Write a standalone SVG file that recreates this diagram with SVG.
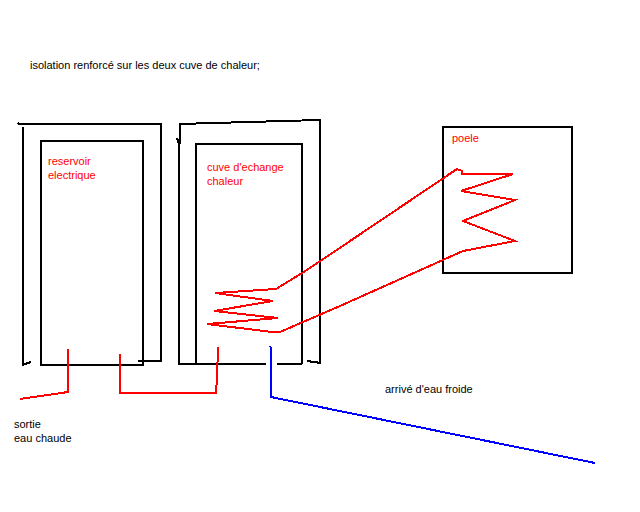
<svg xmlns="http://www.w3.org/2000/svg" width="640" height="512" viewBox="0 0 640 512">
  <style>
    text { font-family: "Liberation Sans", Arial, sans-serif; font-size: 11px; }
    .black { fill: #000; }
    .red { fill: #f00; }
    .wall { fill: none; stroke: #000; stroke-width: 2; shape-rendering: crispEdges; }
    .hot { fill: none; stroke: #f00; stroke-width: 2; shape-rendering: crispEdges; }
    .cold { fill: none; stroke: #00f; stroke-width: 2; shape-rendering: crispEdges; }
  </style>
  <rect width="640" height="512" fill="#fff"/>
  <g id="title">
    <text class="black" x="30" y="69">isolation renforcé sur les deux cuve de chaleur;</text>
  </g>
  <g id="reservoir">
    <path class="wall" d="M18 123 L19 124 H161 V361 H138"/>
    <path class="wall" d="M23 127 V365 M22 365 L31 362"/>
    <rect class="wall" x="41" y="141" width="102" height="224"/>
    <text class="red" x="48" y="165">reservoir</text>
    <text class="red" x="48" y="179">electrique</text>
  </g>
  <g id="cuve">
    <path class="wall" d="M179 124 L214 123 L249 122 L284 121 L320 120 V363 M321 363 L307 361"/>
    <path class="wall" d="M180 124 V144 M177 138 L179 144 V252 V364 H266 M277 364 H302"/>
    <path class="wall" d="M196 364 V144 H302 V364"/>
    <text class="red" x="207" y="171">cuve d'echange</text>
    <text class="red" x="207" y="185">chaleur</text>
  </g>
  <g id="poele">
    <rect class="wall" x="443" y="127" width="129" height="146"/>
    <text class="red" x="452" y="142">poele</text>
  </g>
  <g id="connectors">
    <path class="hot" d="M67 350 H68 V392 L20 399"/>
    <path class="hot" d="M120 354 V393 H216 L217 378 L218 347"/>
    <path class="hot" d="M457 169 L307 270 L276 289 L215 293 L273 301 L214 311 L278 318 L207 324 L272 332 H280 L340 306 L463 251 L515 241 L463 221 L515 200 L461 191 L513 174 H462 V171 L457 169"/>
    <path class="cold" d="M270 346 L271 348 V397 L595 463"/>
  </g>
  <g id="labels">
    <text class="black" x="14" y="428">sortie</text>
    <text class="black" x="14" y="442">eau chaude</text>
    <text class="black" x="385" y="393">arrivé d'eau froide</text>
  </g>
</svg>
